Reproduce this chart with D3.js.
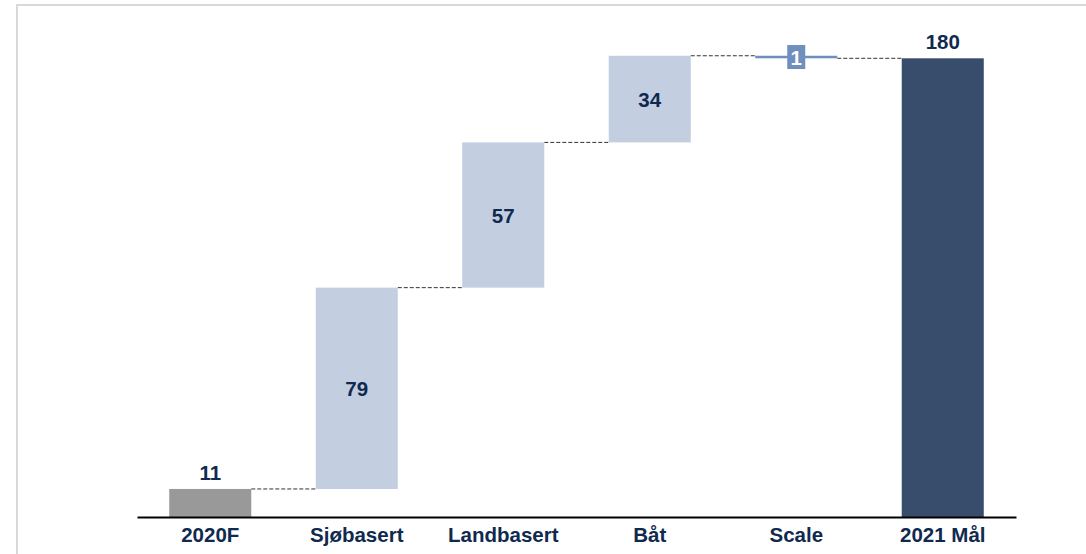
<!DOCTYPE html>
<html>
<head>
<meta charset="utf-8">
<script src="https://cdn.jsdelivr.net/npm/d3@7"></script>
<style>
  body { margin: 0; background: #fff; }
  text { font-family: "Liberation Sans", Arial, sans-serif; font-weight: bold; }
</style>
</head>
<body>
<svg id="chart"></svg>
<script>
// waterfall data
const categories = ["2020F", "Sjøbasert", "Landbasert", "Båt", "Scale", "2021 Mål"];
const values = [11, 79, 57, 34, -1, 180];
const kinds = ["start", "delta", "delta", "delta", "delta", "total"];

const W = 1086, H = 554;
const baseY = 517, topY = 58.3;
const x0 = 137, x1 = 1016;
const fs = 20.5;

const colStart = "#999999", colDelta = "#c3cee0", colTotal = "#384d6c",
    colSmall = "#6f8fbf", colText = "#0f2a4e";

var svg = d3.select("#chart").attr("width", W).attr("height", H);

// frame (top + left only)
svg.append("line").attr("x1", 16).attr("x2", W).attr("y1", 5).attr("y2", 5)
    .attr("stroke", "#d9d9d9").attr("stroke-width", 2);
svg.append("line").attr("x1", 17).attr("x2", 17).attr("y1", 4).attr("y2", H)
    .attr("stroke", "#d9d9d9").attr("stroke-width", 2);

var xBand = d3.scaleBand().domain(categories).range([x0, x1])
    .paddingInner(0.44).paddingOuter(0.22);
var yScale = d3.scaleLinear().domain([0, 180]).range([baseY, topY]);

// compute bar extents
let run = 0;
const bars = categories.map((c, i) => {
    let lo, hi;
    if (kinds[i] == "start" || kinds[i] == "total") {
        lo = 0; hi = values[i]; run = values[i];
    } else {
        lo = run; hi = run + values[i]; run = hi;
        if (lo > hi) { const t = lo; lo = hi; hi = t; }
    }
    return { cat: c, v: values[i], kind: kinds[i], lo: lo, hi: hi, end: run };
});

// dashed connectors
for (let i = 0; i < bars.length - 1; i++) {
    const yv = bars[i].end;
    svg.append("line")
        .attr("x1", xBand(bars[i].cat) + xBand.bandwidth())
        .attr("x2", xBand(bars[i + 1].cat))
        .attr("y1", yScale(yv)).attr("y2", yScale(yv))
        .attr("stroke", "#333").attr("stroke-width", 1)
        .attr("stroke-dasharray", "4,2");
}

const color = d => d.kind == "start" ? colStart : d.kind == "total" ? colTotal : colDelta;
const small = d => yScale(d.lo) - yScale(d.hi) < 20;

svg.selectAll(".bar")
    .data(bars)
    .enter()
    .append("rect")
    .attr("class", "bar")
    .attr("x", d => xBand(d.cat))
    .attr("width", xBand.bandwidth())
    .attr("y", d => yScale(d.hi))
    .attr("height", d => yScale(d.lo) - yScale(d.hi))
    .attr("fill", d => small(d) ? colSmall : color(d));

// labels
bars.forEach(d => {
    const cx = xBand(d.cat) + xBand.bandwidth() / 2;
    const txt = Math.abs(d.v);
    if (d.kind != "delta") {
        svg.append("text").attr("x", cx).attr("y", yScale(d.hi) - 9)
            .attr("text-anchor", "middle").attr("font-size", fs)
            .attr("fill", colText).text(txt);
    } else if (small(d)) {
        const cy = (yScale(d.lo) + yScale(d.hi)) / 2;
        svg.append("rect").attr("x", cx - 9).attr("y", cy - 12)
            .attr("width", 18).attr("height", 24).attr("fill", colSmall);
        svg.append("text").attr("x", cx).attr("y", cy + 7.5)
            .attr("text-anchor", "middle").attr("font-size", fs)
            .attr("fill", "#fff").text(txt);
    } else {
        const cy = (yScale(d.lo) + yScale(d.hi)) / 2;
        svg.append("text").attr("x", cx).attr("y", cy + 7.5)
            .attr("text-anchor", "middle").attr("font-size", fs)
            .attr("fill", colText).text(txt);
    }
});

// x-axis
var xAxis = d3.axisBottom(xBand).tickSize(0).tickSizeOuter(0).tickPadding(10);
var gX = svg.append("g")
    .attr("transform", "translate(0," + baseY + ")")
    .call(xAxis);
gX.select(".domain").attr("stroke", "#000").attr("stroke-width", 2);
gX.selectAll(".tick text")
    .attr("font-size", fs)
    .attr("font-family", "Liberation Sans, Arial, sans-serif")
    .attr("font-weight", "bold")
    .attr("fill", colText);
</script>
</body>
</html>
